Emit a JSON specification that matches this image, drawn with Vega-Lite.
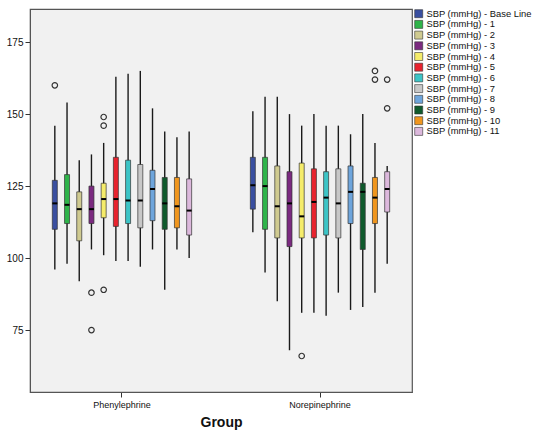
{
  "$schema": "https://vega.github.io/schema/vega-lite/v6.json",
  "width": 382,
  "height": 383,
  "autosize": {"type": "none"},
  "padding": {"left": 30, "top": 9, "right": 126, "bottom": 48},
  "background": "white",
  "config": {
    "font": "Liberation Sans",
    "view": {"fill": "#f1f1f1", "stroke": "#555555", "strokeWidth": 1.2}
  },
  "datasets": {
    "boxes": [
      {"group": "Phenylephrine", "series": "SBP (mmHg) - Base Line", "min": 96, "q1": 110, "median": 119, "q3": 127, "max": 146},
      {"group": "Phenylephrine", "series": "SBP (mmHg) - 1", "min": 98, "q1": 112, "median": 118.5, "q3": 129, "max": 154},
      {"group": "Phenylephrine", "series": "SBP (mmHg) - 2", "min": 92, "q1": 106, "median": 117, "q3": 123, "max": 134},
      {"group": "Phenylephrine", "series": "SBP (mmHg) - 3", "min": 103, "q1": 112, "median": 117, "q3": 125, "max": 136},
      {"group": "Phenylephrine", "series": "SBP (mmHg) - 4", "min": 101, "q1": 114, "median": 120.5, "q3": 126, "max": 140},
      {"group": "Phenylephrine", "series": "SBP (mmHg) - 5", "min": 99, "q1": 111, "median": 120.5, "q3": 135, "max": 163},
      {"group": "Phenylephrine", "series": "SBP (mmHg) - 6", "min": 99, "q1": 112, "median": 120, "q3": 134, "max": 164},
      {"group": "Phenylephrine", "series": "SBP (mmHg) - 7", "min": 97, "q1": 110.5, "median": 120, "q3": 132.5, "max": 165},
      {"group": "Phenylephrine", "series": "SBP (mmHg) - 8", "min": 103, "q1": 113, "median": 124, "q3": 130.5, "max": 152},
      {"group": "Phenylephrine", "series": "SBP (mmHg) - 9", "min": 89, "q1": 110, "median": 119, "q3": 128, "max": 144},
      {"group": "Phenylephrine", "series": "SBP (mmHg) - 10", "min": 103, "q1": 110.5, "median": 118, "q3": 128, "max": 142},
      {"group": "Phenylephrine", "series": "SBP (mmHg) - 11", "min": 100, "q1": 108, "median": 116.5, "q3": 127.5, "max": 144},
      {"group": "Norepinephrine", "series": "SBP (mmHg) - Base Line", "min": 109, "q1": 117, "median": 125.3, "q3": 135, "max": 151},
      {"group": "Norepinephrine", "series": "SBP (mmHg) - 1", "min": 95, "q1": 110, "median": 125, "q3": 135, "max": 156},
      {"group": "Norepinephrine", "series": "SBP (mmHg) - 2", "min": 85, "q1": 107, "median": 118, "q3": 132, "max": 156},
      {"group": "Norepinephrine", "series": "SBP (mmHg) - 3", "min": 68, "q1": 104, "median": 119, "q3": 130, "max": 150},
      {"group": "Norepinephrine", "series": "SBP (mmHg) - 4", "min": 81, "q1": 107, "median": 114.5, "q3": 133, "max": 146},
      {"group": "Norepinephrine", "series": "SBP (mmHg) - 5", "min": 81, "q1": 107, "median": 119.5, "q3": 131, "max": 150},
      {"group": "Norepinephrine", "series": "SBP (mmHg) - 6", "min": 80, "q1": 108, "median": 121, "q3": 130, "max": 146},
      {"group": "Norepinephrine", "series": "SBP (mmHg) - 7", "min": 88, "q1": 107, "median": 119, "q3": 131, "max": 146},
      {"group": "Norepinephrine", "series": "SBP (mmHg) - 8", "min": 82, "q1": 112, "median": 123, "q3": 132, "max": 143},
      {"group": "Norepinephrine", "series": "SBP (mmHg) - 9", "min": 83, "q1": 103, "median": 123, "q3": 126, "max": 150},
      {"group": "Norepinephrine", "series": "SBP (mmHg) - 10", "min": 88, "q1": 112, "median": 121, "q3": 128, "max": 140},
      {"group": "Norepinephrine", "series": "SBP (mmHg) - 11", "min": 98, "q1": 116, "median": 124, "q3": 130, "max": 132}
    ],
    "outliers": [
      {"group": "Phenylephrine", "series": "SBP (mmHg) - Base Line", "value": 160},
      {"group": "Phenylephrine", "series": "SBP (mmHg) - 3", "value": 88},
      {"group": "Phenylephrine", "series": "SBP (mmHg) - 3", "value": 75},
      {"group": "Phenylephrine", "series": "SBP (mmHg) - 4", "value": 149},
      {"group": "Phenylephrine", "series": "SBP (mmHg) - 4", "value": 146},
      {"group": "Phenylephrine", "series": "SBP (mmHg) - 4", "value": 89},
      {"group": "Norepinephrine", "series": "SBP (mmHg) - 4", "value": 66},
      {"group": "Norepinephrine", "series": "SBP (mmHg) - 10", "value": 165},
      {"group": "Norepinephrine", "series": "SBP (mmHg) - 10", "value": 162},
      {"group": "Norepinephrine", "series": "SBP (mmHg) - 11", "value": 162},
      {"group": "Norepinephrine", "series": "SBP (mmHg) - 11", "value": 152}
    ]
  },
  "encoding": {
    "x": {
      "field": "group",
      "type": "nominal",
      "sort": ["Phenylephrine", "Norepinephrine"],
      "scale": {"paddingInner": 0.26, "paddingOuter": 0.0945},
      "axis": {
        "title": "Group",
        "titleFont": "Liberation Sans",
        "titleFontSize": 14,
        "titleFontWeight": "bold",
        "titleColor": "#111",
        "titlePadding": 6,
        "labelFontSize": 9,
        "labelColor": "#111",
        "labelAngle": 0,
        "labelPadding": 3,
        "tickColor": "#333",
        "tickSize": 5,
        "domainColor": "#555"
      }
    },
    "xOffset": {
      "field": "series",
      "type": "nominal",
      "scale": {
        "domain": ["SBP (mmHg) - Base Line", "SBP (mmHg) - 1", "SBP (mmHg) - 2", "SBP (mmHg) - 3", "SBP (mmHg) - 4", "SBP (mmHg) - 5", "SBP (mmHg) - 6", "SBP (mmHg) - 7", "SBP (mmHg) - 8", "SBP (mmHg) - 9", "SBP (mmHg) - 10", "SBP (mmHg) - 11"],
        "paddingInner": 0,
        "paddingOuter": 0
      }
    }
  },
  "layer": [
    {
      "data": {"name": "boxes"},
      "mark": {"type": "rule", "color": "#1a1a1a", "strokeWidth": 1.4},
      "encoding": {
        "y": {
          "field": "min",
          "type": "quantitative",
          "scale": {"domain": [53.5, 186.5], "nice": false, "zero": false},
          "axis": {
            "title": null,
            "values": [75, 100, 125, 150, 175],
            "grid": false,
            "labelFontSize": 10,
            "labelColor": "#111",
            "tickColor": "#333",
            "tickSize": 5,
            "domainColor": "#555"
          }
        },
        "y2": {"field": "max"}
      }
    },
    {
      "data": {"name": "boxes"},
      "mark": {"type": "bar", "size": 5, "stroke": "#333333", "strokeWidth": 0.7},
      "encoding": {
        "y": {"field": "q1", "type": "quantitative"},
        "y2": {"field": "q3"},
        "color": {
          "field": "series",
          "type": "nominal",
          "scale": {
            "domain": ["SBP (mmHg) - Base Line", "SBP (mmHg) - 1", "SBP (mmHg) - 2", "SBP (mmHg) - 3", "SBP (mmHg) - 4", "SBP (mmHg) - 5", "SBP (mmHg) - 6", "SBP (mmHg) - 7", "SBP (mmHg) - 8", "SBP (mmHg) - 9", "SBP (mmHg) - 10", "SBP (mmHg) - 11"],
            "range": ["#3a4fa0", "#2fb44a", "#cfca90", "#7b2a80", "#f5ec6a", "#e8232e", "#3cc4c6", "#c8c8c8", "#6ea5dc", "#0f5a2c", "#f0961e", "#dcb8dc"]
          },
          "legend": {
            "title": null,
            "orient": "right",
            "offset": 2,
            "padding": 0,
            "symbolType": "square",
            "symbolSize": 64,
            "symbolStrokeColor": "#333",
            "symbolStrokeWidth": 0.6,
            "symbolOpacity": 1,
            "labelFontSize": 9.4,
            "labelColor": "#111",
            "labelOffset": 3,
            "rowPadding": -0.3,
            "labelLimit": 200
          }
        }
      }
    },
    {
      "data": {"name": "boxes"},
      "mark": {"type": "tick", "color": "#000000", "thickness": 2, "size": 5, "opacity": 1},
      "encoding": {
        "y": {"field": "median", "type": "quantitative"}
      }
    },
    {
      "data": {"name": "outliers"},
      "mark": {"type": "point", "shape": "circle", "filled": false, "stroke": "#333333", "strokeWidth": 1.2, "size": 30, "opacity": 1},
      "encoding": {
        "y": {"field": "value", "type": "quantitative"}
      }
    }
  ]
}
